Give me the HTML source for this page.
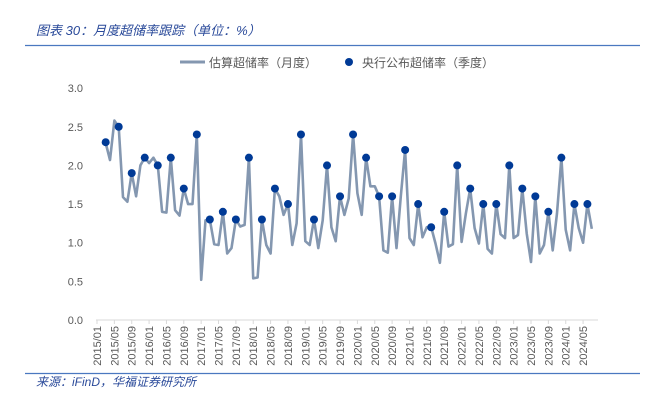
<!DOCTYPE html>
<html><head><meta charset="utf-8"><style>
body{margin:0;background:#fff;width:648px;height:406px;overflow:hidden;font-family:"Liberation Sans","Noto Sans CJK SC",sans-serif}
</style></head><body>
<svg width="648" height="406" style="position:absolute;left:0;top:0">
<text x="36" y="35" font-size="13" font-style="italic" fill="#2a4a9a" font-family="Liberation Sans, Noto Sans CJK SC, sans-serif">图表 30：月度超储率跟踪（单位：%）</text>
<line x1="25" y1="45.5" x2="640" y2="45.5" stroke="#4a78c0" stroke-width="1.2"/>
<g>
<line x1="180" y1="62" x2="205" y2="62" stroke="#8497b0" stroke-width="3"/>
<text x="209" y="67" font-size="12" fill="#595959">估算超储率（月度）</text>
<circle cx="349" cy="62" r="4" fill="#003a96"/>
<text x="362" y="67" font-size="12" fill="#595959">央行公布超储率（季度）</text>
</g>
<g id="yax"></g>
<g id="xax"></g>
<g id="plot"></g>
<line x1="25" y1="373.5" x2="640" y2="373.5" stroke="#4a78c0" stroke-width="1.2"/>
<text x="36" y="386" font-size="12" font-style="italic" fill="#2a4a9a">来源：iFinD，华福证券研究所</text>
</svg>
<script>
const startIndex = 2; // months after 2015/01
const monthly = [2.29,2.07,2.58,2.5,1.59,1.53,1.9,1.6,2.0,2.1,2.03,2.1,2.0,1.4,1.39,2.1,1.42,1.35,1.7,1.5,1.5,2.4,0.52,1.29,1.3,0.98,0.97,1.4,0.86,0.93,1.3,1.21,1.23,2.1,0.54,0.55,1.3,0.97,0.86,1.7,1.6,1.36,1.5,0.97,1.25,2.4,1.02,0.97,1.3,0.93,1.29,2.0,1.2,1.02,1.6,1.36,1.57,2.4,1.64,1.36,2.1,1.73,1.73,1.6,0.9,0.87,1.6,0.93,1.6,2.2,1.06,0.97,1.5,1.07,1.2,1.2,0.99,0.74,1.4,0.95,0.98,2.0,1.01,1.38,1.7,1.19,0.99,1.5,0.92,0.86,1.5,1.11,1.06,2.0,1.06,1.1,1.7,1.12,0.75,1.6,0.86,0.97,1.4,0.9,1.38,2.1,1.17,0.9,1.5,1.19,1.0,1.5,1.18];
const quarterly = [2.3,2.5,1.9,2.1,2.0,2.1,1.7,2.4,1.3,1.4,1.3,2.1,1.3,1.7,1.5,2.4,1.3,2.0,1.6,2.4,2.1,1.6,1.6,2.2,1.5,1.2,1.4,2.0,1.7,1.5,1.5,2.0,1.7,1.6,1.4,2.1,1.5,1.5];
const yTicks = ["0.0","0.5","1.0","1.5","2.0","2.5","3.0"];
const xLabels = [];
for(let y=2015;y<=2024;y++)for(const m of ["01","05","09"]){if(y===2024&&m==="09")break;xLabels.push(y+"/"+m);}
const NS="http://www.w3.org/2000/svg";
const x0=97, pxm=4.34, yb=320, ppu=77.3;
const X=m=>x0+m*pxm, Y=v=>yb-v*ppu;
function mk(t,a,p){const e=document.createElementNS(NS,t);for(const k in a)e.setAttribute(k,a[k]);p.appendChild(e);return e;}
const yax=document.getElementById('yax'),xax=document.getElementById('xax'),plot=document.getElementById('plot');
yTicks.forEach(t=>{const e=mk('text',{x:83,y:Y(+t)+4,'font-size':11,fill:'#595959','text-anchor':'end'},yax);e.textContent=t;

});
const ax=mk('line',{x1:96,y1:yb,x2:598,y2:yb,stroke:'#d9d9d9','stroke-width':1},xax);


xLabels.forEach((l,i)=>{const xx=X(i*4);
const tk=mk('line',{x1:xx,y1:yb,x2:xx,y2:yb+4,stroke:'#d9d9d9'},xax);


const e=mk('text',{transform:`translate(${xx+4},${yb+6}) rotate(-90)`,'font-size':11,fill:'#595959','text-anchor':'end'},xax);e.textContent=l;

});
const pts=monthly.map((v,i)=>X(startIndex+i).toFixed(1)+','+Y(v).toFixed(1)).join(' ');
const pl=mk('polyline',{points:pts,fill:'none',stroke:'#8497b0','stroke-width':2.6,'stroke-linejoin':'round'},plot);


quarterly.forEach((v,i)=>{const c=mk('circle',{cx:X(startIndex+i*3),cy:Y(v),r:4,fill:'#003a96'},plot);

});
</script>
</body></html>
